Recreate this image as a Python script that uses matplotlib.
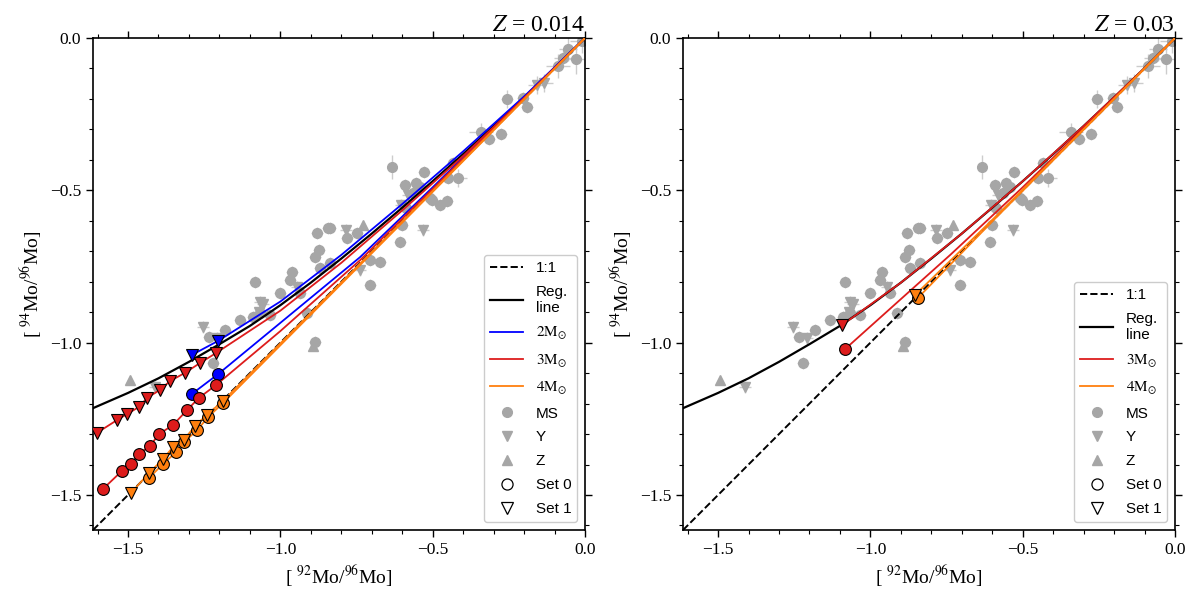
import numpy as np
import matplotlib
matplotlib.use('Agg')
import matplotlib.pyplot as plt
from matplotlib.lines import Line2D
from matplotlib.ticker import MultipleLocator

plt.rcParams['font.family'] = ['Liberation Serif', 'DejaVu Serif']
plt.rcParams['mathtext.fontset'] = 'stix'

# ---- observations (same in both panels) ----
ms_x = [-0.01, -0.056, -0.072, -0.030, -0.089, -0.256, -0.203, -0.190, -0.341, -0.315,
        -0.276, -0.433, -0.633, -0.528, -0.591, -0.555, -0.542, -0.564, -0.417, -0.450,
        -0.509, -0.476, -0.453, -0.502, -0.587, -0.607, -0.601, -0.880, -0.843, -0.748,
        -0.781, -0.837, -0.706, -0.673, -0.706, -0.873, -0.886, -0.870, -0.837, -0.962,
        -0.968, -1.001, -1.083, -0.935, -0.912, -1.132, -1.090, -1.181, -1.234, -1.221,
        -0.886, -1.034, -1.067]
ms_y = [-0.01, -0.036, -0.066, -0.069, -0.092, -0.200, -0.197, -0.226, -0.308, -0.331,
        -0.315, -0.410, -0.423, -0.440, -0.482, -0.476, -0.489, -0.509, -0.459, -0.459,
        -0.525, -0.548, -0.535, -0.532, -0.558, -0.670, -0.614, -0.640, -0.624, -0.640,
        -0.656, -0.624, -0.729, -0.735, -0.811, -0.696, -0.719, -0.755, -0.738, -0.768,
        -0.794, -0.837, -0.801, -0.837, -0.903, -0.925, -0.916, -0.958, -0.981, -1.067,
        -0.998, -0.909, -0.903]
ms_xerr = [0.04, 0.03, 0.03, 0.04, 0.04, 0.02, 0.02, 0.02, 0.04, 0.02,
           0.02, 0.02, 0.01, 0.02, 0.02, 0.02, 0.02, 0.02, 0.03, 0.02,
           0.02, 0.02, 0.02, 0.02, 0.02, 0.02, 0.02, 0.02, 0.02, 0.02,
           0.02, 0.02, 0.02, 0.02, 0.02, 0.02, 0.02, 0.02, 0.02, 0.02,
           0.02, 0.02, 0.02, 0.02, 0.02, 0.02, 0.02, 0.02, 0.02, 0.02,
           0.02, 0.02, 0.02]
ms_yerr = [0.04, 0.04, 0.03, 0.05, 0.04, 0.03, 0.02, 0.02, 0.03, 0.02,
           0.02, 0.02, 0.04, 0.02, 0.02, 0.02, 0.02, 0.02, 0.03, 0.02,
           0.02, 0.02, 0.02, 0.02, 0.02, 0.02, 0.02, 0.02, 0.02, 0.02,
           0.02, 0.02, 0.02, 0.02, 0.02, 0.02, 0.02, 0.02, 0.02, 0.02,
           0.02, 0.02, 0.02, 0.02, 0.02, 0.02, 0.02, 0.02, 0.02, 0.02,
           0.02, 0.02, 0.02]

y_x = [-0.158, -0.135, -0.581, -0.604, -0.532, -0.784, -0.738, -0.945, -1.067, -1.057,
       -1.254, -1.411, -1.208, -1.070]
y_y = [-0.154, -0.148, -0.515, -0.548, -0.630, -0.630, -0.761, -0.817, -0.866, -0.873,
       -0.948, -1.145, -0.985, -0.900]
y_err = [0.03, 0.03, 0.02, 0.02, 0.02, 0.02, 0.02, 0.02, 0.02, 0.02, 0.02, 0.02, 0.02, 0.02]

z_x = [-1.493, -0.893, -0.729]
z_y = [-1.122, -1.011, -0.614]

# ---- regression line ----
reg_x = [-1.615, -1.5, -1.4, -1.3, -1.2, -1.1, -1.0, -0.9, -0.8, -0.7, -0.6, -0.5,
         -0.4, -0.3, -0.2, -0.1, 0.0]
reg_y = [-1.215, -1.165, -1.117, -1.063, -1.005, -0.945, -0.877, -0.803, -0.724, -0.642,
         -0.557, -0.470, -0.381, -0.289, -0.195, -0.099, 0.0]

# ---- model tracks, Z = 0.014 (markers on the first n points) ----
a_m2_s0_x = [-1.290, -1.204, -1.0, -0.738, -0.5, -0.25, 0.0]
a_m2_s0_y = [-1.168, -1.103, -0.935, -0.719, -0.49, -0.245, 0.0]
a_m2_s0_n = 2
a_m2_s1_x = [-1.290, -1.204, -1.0, -0.8, -0.6, -0.4, -0.2, 0.0]
a_m2_s1_y = [-1.040, -0.994, -0.865, -0.712, -0.545, -0.372, -0.192, 0.0]
a_m2_s1_n = 2

a_m3_s0_x = [-1.582, -1.520, -1.490, -1.464, -1.428, -1.398, -1.352, -1.306, -1.267, -1.211,
             -1.0, -0.738, -0.5, -0.25, 0.0]
a_m3_s0_y = [-1.480, -1.421, -1.398, -1.365, -1.339, -1.300, -1.270, -1.221, -1.181, -1.139,
             -0.962, -0.729, -0.495, -0.247, 0.0]
a_m3_s0_n = 10
a_m3_s1_x = [-1.602, -1.536, -1.503, -1.464, -1.437, -1.395, -1.362, -1.313, -1.264, -1.211,
             -1.0, -0.8, -0.6, -0.4, -0.2, 0.0]
a_m3_s1_y = [-1.296, -1.254, -1.234, -1.211, -1.181, -1.155, -1.126, -1.099, -1.067, -1.034,
             -0.895, -0.738, -0.566, -0.387, -0.197, 0.0]
a_m3_s1_n = 10

a_m4_s0_x = [-1.431, -1.385, -1.342, -1.316, -1.273, -1.237, -1.188, -0.9, -0.6, -0.3, 0.0]
a_m4_s0_y = [-1.444, -1.398, -1.359, -1.326, -1.287, -1.244, -1.198, -0.908, -0.606, -0.303, 0.0]
a_m4_s0_n = 7
a_m4_s1_x = [-1.490, -1.431, -1.385, -1.352, -1.316, -1.280, -1.241, -1.188, -0.9, -0.6, -0.3, 0.0]
a_m4_s1_y = [-1.493, -1.428, -1.382, -1.342, -1.319, -1.273, -1.237, -1.191, -0.902, -0.602, -0.301, 0.0]
a_m4_s1_n = 8

# ---- model tracks, Z = 0.03 ----
b_m3_s0_x = [-1.083, -0.9, -0.738, -0.5, -0.25, 0.0]
b_m3_s0_y = [-1.021, -0.857, -0.712, -0.49, -0.247, 0.0]
b_m3_s1_x = [-1.093, -0.9, -0.7, -0.5, -0.3, -0.1, 0.0]
b_m3_s1_y = [-0.942, -0.803, -0.642, -0.470, -0.289, -0.099, 0.0]
b_m4_s0_x = [-0.843, -0.6, -0.3, 0.0]
b_m4_s0_y = [-0.852, -0.602, -0.301, 0.0]
b_m4_s1_x = [-0.853, -0.6, -0.3, 0.0]
b_m4_s1_y = [-0.843, -0.597, -0.299, 0.0]

lim = [-1.615, 0.0]
c_gray = '#a6a6a6'
c_m2 = '#0000ff'
c_m3 = '#dd1c1c'
c_m4 = '#ff7f0e'


def draw_obs(ax):
    ax.errorbar(ms_x, ms_y, xerr=ms_xerr, yerr=ms_yerr, fmt='o', color=c_gray, ms=7,
                ecolor='#cccccc', elinewidth=1.0, capsize=0, zorder=1)
    ax.errorbar(y_x, y_y, xerr=y_err, yerr=y_err, fmt='v', color=c_gray, ms=7.5,
                ecolor='#cccccc', elinewidth=1.0, capsize=0, zorder=1)
    ax.plot(z_x, z_y, '^', color=c_gray, ms=7.5, zorder=1)


def draw_track(ax, x, y, n, color, marker):
    ax.plot(x, y, '-', color=color, lw=1.3, zorder=3)
    ax.plot(x[:n], y[:n], marker, color=color, mfc=color, mec='black', mew=0.8,
            ms=8.5, zorder=5, ls='none')


def style_axes(ax, title):
    ax.plot(lim, lim, '--', color='black', lw=1.4, zorder=2)
    ax.plot(reg_x, reg_y, '-', color='black', lw=1.6, zorder=2)
    ax.set_xlim(lim)
    ax.set_ylim(lim)
    ax.xaxis.set_major_locator(MultipleLocator(0.5))
    ax.yaxis.set_major_locator(MultipleLocator(0.5))
    ax.xaxis.set_minor_locator(MultipleLocator(0.1))
    ax.yaxis.set_minor_locator(MultipleLocator(0.1))
    ax.tick_params(which='both', direction='out', top=True, right=True, labelsize=12.5)
    ax.tick_params(which='major', length=5, width=1)
    ax.tick_params(which='minor', length=3, width=0.8)
    for s in ax.spines.values():
        s.set_linewidth(1.2)
    ax.set_xlabel(r'[ $^{92}$Mo/$^{96}$Mo]', fontsize=14)
    ax.set_ylabel(r'[ $^{94}$Mo/$^{96}$Mo]', fontsize=14)
    ax.set_title(title, loc='right', fontsize=17, pad=5)


def add_legend(ax, masses):
    h = [Line2D([], [], color='black', ls='--', lw=1.4),
         Line2D([], [], color='black', lw=1.6)]
    lab = ['1:1', 'Reg.\nline']
    for m, c in masses:
        h.append(Line2D([], [], color=c, lw=1.3))
        lab.append(r'$\mathrm{%dM}_{\odot}$' % m)
    h += [Line2D([], [], color=c_gray, marker='o', ls='none', ms=7),
          Line2D([], [], color=c_gray, marker='v', ls='none', ms=7.5),
          Line2D([], [], color=c_gray, marker='^', ls='none', ms=7.5),
          Line2D([], [], color='black', marker='o', mfc='white', ls='none', ms=8, mew=0.9),
          Line2D([], [], color='black', marker='v', mfc='white', ls='none', ms=8, mew=0.9)]
    lab += ['MS', 'Y', 'Z', 'Set 0', 'Set 1']
    ax.legend(h, lab, loc='lower right', prop={'family': 'Liberation Sans', 'size': 11},
              handlelength=2.2, labelspacing=0.65, framealpha=1, edgecolor='#cccccc')


fig = plt.figure(figsize=(12, 5.97), dpi=100)
ax1 = fig.add_axes([0.0775, 0.1122, 0.41, 0.8241])
ax2 = fig.add_axes([0.5692, 0.1122, 0.41, 0.8241])

# left panel, Z = 0.014
draw_obs(ax1)
style_axes(ax1, r'$Z$ = 0.014')
draw_track(ax1, a_m2_s0_x, a_m2_s0_y, a_m2_s0_n, c_m2, 'o')
draw_track(ax1, a_m2_s1_x, a_m2_s1_y, a_m2_s1_n, c_m2, 'v')
draw_track(ax1, a_m3_s0_x, a_m3_s0_y, a_m3_s0_n, c_m3, 'o')
draw_track(ax1, a_m3_s1_x, a_m3_s1_y, a_m3_s1_n, c_m3, 'v')
draw_track(ax1, a_m4_s0_x, a_m4_s0_y, a_m4_s0_n, c_m4, 'o')
draw_track(ax1, a_m4_s1_x, a_m4_s1_y, a_m4_s1_n, c_m4, 'v')
add_legend(ax1, [(2, c_m2), (3, c_m3), (4, c_m4)])

# right panel, Z = 0.03
draw_obs(ax2)
style_axes(ax2, r'$Z$ = 0.03')
draw_track(ax2, b_m3_s0_x, b_m3_s0_y, 1, c_m3, 'o')
draw_track(ax2, b_m3_s1_x, b_m3_s1_y, 1, c_m3, 'v')
draw_track(ax2, b_m4_s0_x, b_m4_s0_y, 1, c_m4, 'o')
draw_track(ax2, b_m4_s1_x, b_m4_s1_y, 1, c_m4, 'v')
add_legend(ax2, [(3, c_m3), (4, c_m4)])

fig.savefig('out.png', dpi=100)
